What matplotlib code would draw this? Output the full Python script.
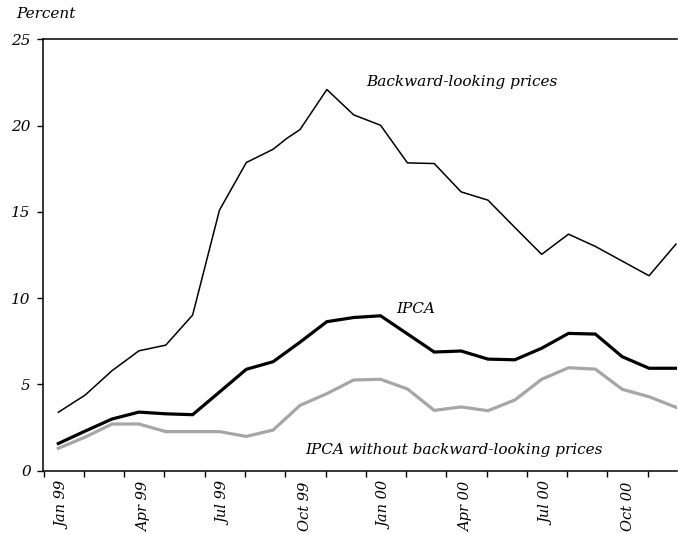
import numpy as np
import matplotlib
matplotlib.use("Agg")
import matplotlib.pyplot as plt

plt.rcParams['font.family'] = ['DejaVu Serif']
plt.rcParams['font.style'] = 'italic'

##month index, 0 = Jan 99
months = np.arange(24)
tick_labels = ['Jan 99', 'Apr 99', 'Jul 99', 'Oct 99',
               'Jan 00', 'Apr 00', 'Jul 00', 'Oct 00']

##backward-looking prices has one extra mid-month reading (Sep 99)
backward_x = [0, 1, 2, 3, 4, 5, 6, 7, 8, 8.5, 9, 10, 11, 12, 13, 14, 15, 16,
              17, 18, 19, 20, 21, 22, 23]
backward = [3.39, 4.39, 5.8, 6.95, 7.28, 9.02, 15.1, 17.86, 18.63, 19.25, 19.77,
            22.09, 20.62, 20.02, 17.84, 17.8, 16.16, 15.68, 14.1, 12.54, 13.71,
            13.0, 12.15, 11.3, 13.13]
ipca = [1.58, 2.3, 3.0, 3.4, 3.3, 3.25, 4.56, 5.88, 6.32, 7.45, 8.64, 8.88, 8.98,
        7.93, 6.88, 6.94, 6.47, 6.43, 7.1, 7.96, 7.92, 6.61, 5.94, 5.94]
ipca_ex = [1.30, 1.95, 2.71, 2.71, 2.27, 2.27, 2.27, 1.99, 2.36, 3.79, 4.47, 5.26,
           5.30, 4.74, 3.50, 3.70, 3.48, 4.10, 5.30, 5.97, 5.89, 4.72, 4.29, 3.68]

fig = plt.figure(figsize=(6.78, 5.34), dpi=100)
ax = fig.add_axes([0.0639, 0.1184, 0.9346, 0.808])

ax.plot(months, ipca_ex, color='#a6a6a6', lw=2.3, solid_joinstyle='miter')
ax.plot(months, ipca, color='black', lw=2.3, solid_joinstyle='miter')
ax.plot(backward_x, backward, color='black', lw=1.1)

ax.set_xlim(-0.56, 23.04)
ax.set_ylim(0, 25)

##tick marks every 1.5 months, labels sit between them
ax.set_xticks(np.arange(-0.55, 23, 1.5))
ax.set_xticklabels([])
ax.set_xticks(np.arange(0.2, 23, 3), minor=True)
ax.set_xticklabels(tick_labels, minor=True, rotation=90, fontsize=10.5)
ax.tick_params(axis='x', which='major', direction='out', length=4, width=1)
ax.tick_params(axis='x', which='minor', length=0, pad=8)

ax.set_yticks(np.arange(0, 26, 5))
ax.set_yticklabels([str(v) for v in range(0, 26, 5)], fontsize=11)
ax.tick_params(axis='y', direction='out', length=4, width=1, pad=5)

ax.spines['right'].set_visible(False)
for s in ['left', 'bottom', 'top']:
    ax.spines[s].set_linewidth(1.1)

fig.text(462 / 678, 1 - 82 / 534, 'Backward-looking prices', fontsize=11,
         ha='center', va='center')
fig.text(415.5 / 678, 1 - 309 / 534, 'IPCA', fontsize=11, ha='center', va='center')
fig.text(454 / 678, 1 - 450 / 534, 'IPCA without backward-looking prices',
         fontsize=11, ha='center', va='center')
fig.text(16 / 678, 1 - 14 / 534, 'Percent', fontsize=11, ha='left', va='center')

fig.savefig('out.png', dpi=100)
